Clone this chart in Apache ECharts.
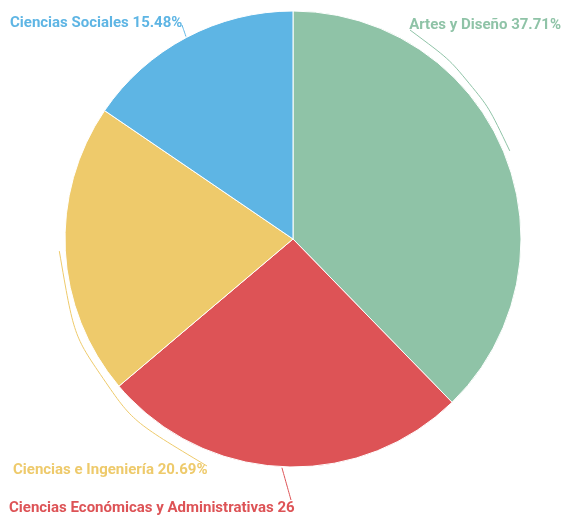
<!DOCTYPE html>
<html>
<head>
<meta charset="utf-8">
<script src="https://cdn.jsdelivr.net/npm/echarts@6/dist/echarts.min.js"></script>
<style>
  html, body { margin: 0; padding: 0; background: #fff; }
  #chart { width: 562px; height: 516px; }
</style>
</head>
<body>
<div id="chart"></div>
<script>
const categories = [
  'Artes y Diseño',
  'Ciencias Económicas y Administrativas',
  'Ciencias e Ingeniería',
  'Ciencias Sociales',
]
const shares = [37.71, 26.12, 20.69, 15.48]
const colors = ['#8fc3a7', '#dd5356', '#eeca6b', '#5eb5e4']

const CX = 293
const CY = 239
const R = 228
const SMOOTH = 0.4

// where each label was moved to, and where its guide line meets it
const labelSpots = [
  { x: 561, y: 25, align: 'right', width: 170, end: [410, 30] },
  { x: 9, y: 508, align: 'left', width: 293, end: [291, 500], cut: true },
  { x: 13, y: 470, align: 'left', width: 220, end: [207, 466] },
  { x: 10, y: 23, align: 'left', width: 190, end: [182, 25] },
]

const total = shares.reduce((a, b) => a + b, 0)
const midAngles = []
let acc = 0
shares.forEach((v) => {
  const a0 = 90 - (acc / total) * 360
  acc += v
  const a1 = 90 - (acc / total) * 360
  midAngles.push((a0 + a1) / 2)
})

const polar = (deg, r) => {
  const t = (deg * Math.PI) / 180
  return [CX + r * Math.cos(t), CY - r * Math.sin(t)]
}

// guide line: 3 points, the corner gets rounded by labelLine.smooth;
// the corner distance is picked so the rounded curve sits on a ring
// just outside the pie
const guidePoints = (i) => {
  const start = midAngles[i]
  const end = labelSpots[i].end
  let endAngle = (Math.atan2(CY - end[1], end[0] - CX) * 180) / Math.PI
  while (endAngle - start > 180) endAngle -= 360
  while (start - endAngle > 180) endAngle += 360
  const half = Math.abs(endAngle - start) / 2
  if (half < 5) {
    const p0 = polar(start, R + 1)
    return [p0, [(p0[0] + end[0]) / 2, (p0[1] + end[1]) / 2], end]
  }
  const ring = R + 6
  const c = Math.cos((half * Math.PI) / 180)
  const d = (ring * (1 - SMOOTH * c)) / (1 - SMOOTH)
  return [polar(start, ring), polar((start + endAngle) / 2, d), end]
}

const chart = echarts.init(document.getElementById('chart'))

chart.setOption({
  animation: false,
  color: colors,
  series: [
    {
      type: 'pie',
      center: [CX, CY],
      radius: [0, R],
      startAngle: 90,
      clockwise: true,
      itemStyle: {
        borderColor: '#fff',
        borderWidth: 1,
      },
      label: {
        show: true,
        position: 'outside',
        fontFamily: 'Roboto',
        fontSize: 15,
        fontWeight: 'bold',
        color: 'inherit',
        overflow: 'none',
        formatter: (p) => p.name + ' ' + p.value.toFixed(2) + '%',
      },
      labelLine: {
        show: true,
        smooth: SMOOTH,
        lineStyle: { width: 1 },
      },
      labelLayout: (params) => {
        const s = labelSpots[params.dataIndex]
        return {
          x: s.x,
          y: s.y,
          align: s.align,
          verticalAlign: 'middle',
          labelLinePoints: guidePoints(params.dataIndex),
        }
      },
      data: categories.map((name, i) => ({
        name,
        value: shares[i],
        label: labelSpots[i].cut
          ? { width: labelSpots[i].width, overflow: 'truncate', ellipsis: '' }
          : { width: labelSpots[i].width },
      })),
    },
  ],
})
</script>
</body>
</html>
